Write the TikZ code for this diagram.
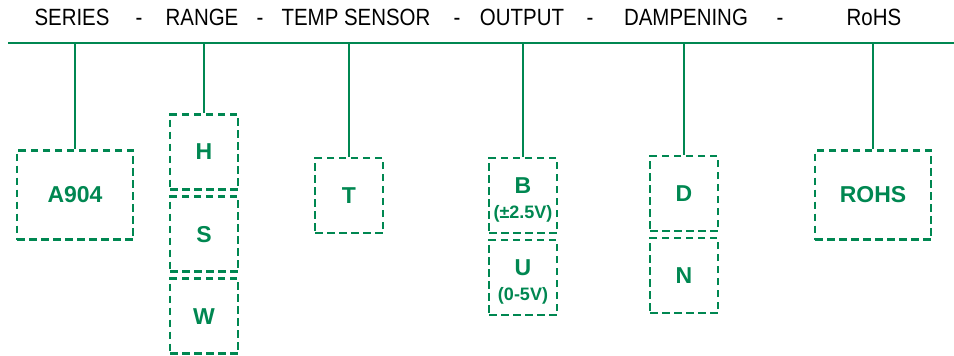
\documentclass[tikz,border=0pt]{standalone}
\usepackage{fontspec}
\setmainfont{Liberation Sans}[FakeStretch=0.87]
\newfontfamily\boxfont{Liberation Sans}
\usepackage{tikz}
\usetikzlibrary{positioning}
\definecolor{codegreen}{RGB}{0,135,81}

\begin{document}
\begin{tikzpicture}[%
x={(1pt,0pt)},
y={(0pt,-1pt)},
head/.style={font=\fontsize{23.5}{24}\selectfont, text=black, anchor=base},
bar/.style={draw=codegreen, line width=2.7pt},
opt/.style={draw=codegreen, line width=2.6pt, dash pattern=on 7.5pt off 4.5pt,
  text=codegreen, font=\boxfont\bfseries\fontsize{23}{25}\selectfont,
  minimum width=68pt, minimum height=75pt, inner sep=0pt, align=center},
wide/.style={minimum width=116pt, minimum height=89pt},
node distance=4.5pt,
]

\useasboundingbox (0,0) rectangle (954,356);

\coordinate (L) at (8,43);
\coordinate (R) at (954,43);

%Kopf
\node[head] (series) at (72,25) {SERIES};
\node[head] (d1) at (139,25) {-};
\node[head] (range) at (202,25) {RANGE};
\node[head] (d2) at (260,25) {-};
\node[head] (temp) at (356,25) {TEMP SENSOR};
\node[head] (d3) at (457,25) {-};
\node[head] (output) at (522,25) {OUTPUT};
\node[head] (d4) at (590,25) {-};
\node[head] (damp) at (686,25) {DAMPENING};
\node[head] (d5) at (780,25) {-};
\node[head] (rohs) at (874,25) {RoHS};

%Kaesten
\node[opt,wide] (A) at (75,195) {A904};
\node[opt] (H) at (204,152) {H};
\node[opt,below=of H] (S) {S};
\node[opt,below=of S] (W) {W};
\node[opt] (T) at (349,195.5) {T};
\node[opt] (B) at (523,195.5) {\rule{0pt}{25pt}B\\{\fontsize{18}{24}\selectfont(±2.5V)}};
\node[opt,below=of B] (U) {\rule{0pt}{25pt}U\\{\fontsize{18}{24}\selectfont(0-5V)}};
\node[opt] (D) at (684,193.5) {D};
\node[opt,below=of D] (N) {N};
\node[opt,wide] (Ro) at (873,195) {ROHS};

%Linien
\draw[bar] (L) -- (R);
\draw[bar] (A.north) -- (A.north |- L);
\draw[bar] (H.north) -- (H.north |- L);
\draw[bar] (T.north) -- (T.north |- L);
\draw[bar] (B.north) -- (B.north |- L);
\draw[bar] (D.north) -- (D.north |- L);
\draw[bar] (Ro.north) -- (Ro.north |- L);

\end{tikzpicture}
\end{document}
